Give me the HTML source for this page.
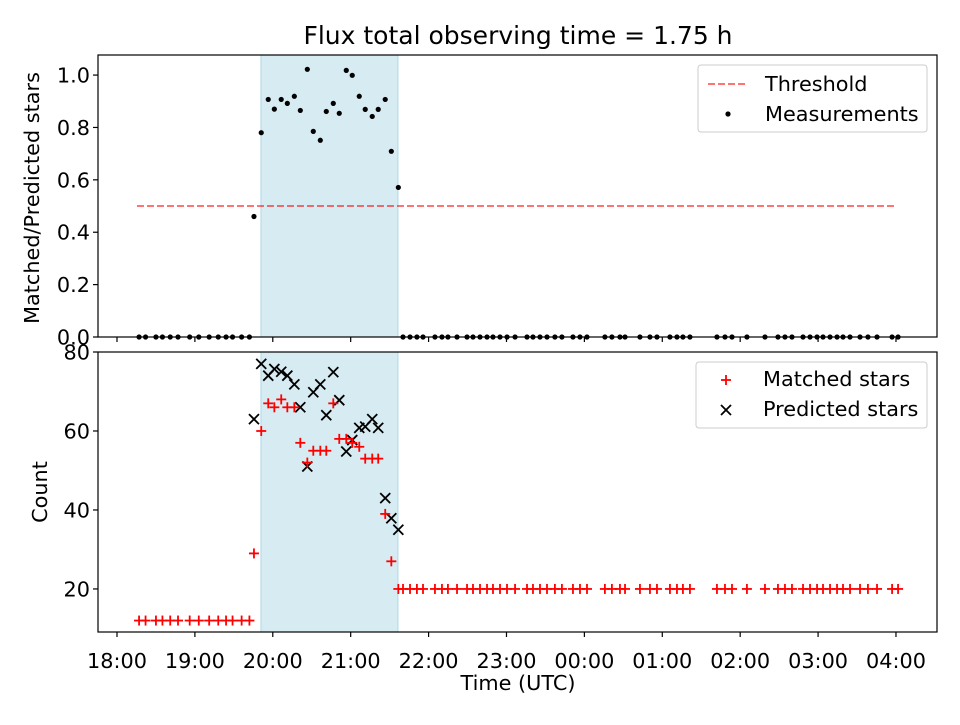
<!DOCTYPE html>
<html><head><meta charset="utf-8"><style>
body{margin:0;background:#fff;}
svg{font-family:"DejaVu Sans","Liberation Sans",sans-serif;}
</style></head><body>
<svg id="chart" width="960" height="720" xmlns="http://www.w3.org/2000/svg"></svg>
<script>
// minutes since 18:00 UTC
const preTimes=[17,22,30,35,41,47,56,63,71,78,84,89,96,102];
const preMatched=[12,12,12,12,12,12,12,12,12,12,12,12,12,12];
const winTimes=[105.5,111.1,116.5,121.2,126.5,131.2,136.6,141.2,146.6,151.2,156.6,161.2,166.6,171.2,176.6,181.2,186.6,191.2,196.6,201.2,206.6,211.3,216.7];
const winMatched=[29,60,67,66,68,66,66,57,52,55,55,55,67,58,58,57,56,53,53,53,39,27,20];
const winPredicted=[63,77,74,75.7,75,74,71.8,66,51,69.8,71.8,64,74.9,67.8,54.8,57.7,60.8,61.1,63,60.8,43,37.9,35];
const winRatio=[0.46,0.78,0.907,0.87,0.907,0.892,0.919,0.865,1.022,0.785,0.751,0.861,0.892,0.854,1.018,0.999,0.919,0.869,0.842,0.869,0.907,0.709,0.571];
const postTimes=[220.3,225.7,231,235.7,244.9,250.3,254.9,261.9,269.6,274.2,279.6,285,289.6,295,300.4,306.6,315.8,320.4,325.8,331.2,337.3,342.7,351.2,356.6,362,375.8,381.2,387.4,391.3,402.8,410.5,415.9,425.9,431.3,435.9,441.3,462.1,468.3,473.7,485.2,499.1,509.1,514.5,519.9,528.4,533.8,539.2,543.8,549.2,554.6,559.2,564.6,572.3,578.4,585.4,597,601.6];
const postMatched=postTimes.map(()=>20);
const xTickLabels=["18:00","19:00","20:00","21:00","22:00","23:00","00:00","01:00","02:00","03:00","04:00"];
const topTicks=[0,0.2,0.4,0.6,0.8,1.0];
const botTicks=[20,40,60,80];
const threshold=0.5, thrStart=15.4, thrEnd=600;
const spanStart=110.9, spanEnd=216.4;

const NS="http://www.w3.org/2000/svg";
const svg=document.getElementById('chart');
function el(tag,attrs,parent){const e=document.createElementNS(NS,tag);for(const k in attrs)e.setAttribute(k,attrs[k]);(parent||svg).appendChild(e);return e;}
const L=98,R=937, T1=55,B1=337, T2=352,B2=632;
const xMin=-14.63,xMax=631.6;
const X=m=>L+(m-xMin)/(xMax-xMin)*(R-L);
const yTop=v=>B1-(v-(-0.0))/(1.0766)*(B1-T1);
const bMin=9.1,bMax=80;
const yBot=v=>B2-(v-bMin)/(bMax-bMin)*(B2-T2);
const FS=20.8;

let s=el('rect',{x:X(spanStart),y:T1,width:X(spanEnd)-X(spanStart),height:B1-T1,fill:'#add8e6','fill-opacity':0.5,stroke:'#add8e6'});

s=el('rect',{x:X(spanStart),y:T2,width:X(spanEnd)-X(spanStart),height:B2-T2,fill:'#add8e6','fill-opacity':0.5,stroke:'#add8e6'});


let th=el('line',{x1:X(thrStart),x2:X(thrEnd),y1:yTop(threshold),y2:yTop(threshold),stroke:'#ff0000','stroke-opacity':0.55,'stroke-width':2,'stroke-dasharray':'7,3'});


const allT=[...preTimes,...winTimes,...postTimes];
const allR=[...preTimes.map(()=>0),...winRatio,...postTimes.map(()=>0)];
allT.forEach((t,i)=>{const c=el('circle',{cx:X(t),cy:yTop(allR[i]),r:2.6,fill:'#000'});

});

function plus(x,y){const g=el('g',{stroke:'#ff0000','stroke-width':1.8});el('line',{x1:x-5,x2:x+5,y1:y,y2:y},g);el('line',{x1:x,x2:x,y1:y-5,y2:y+5},g);return g;}
function cross(x,y){const g=el('g',{stroke:'#000','stroke-width':1.8});el('line',{x1:x-5,x2:x+5,y1:y-5,y2:y+5},g);el('line',{x1:x-5,x2:x+5,y1:y+5,y2:y-5},g);return g;}
winTimes.forEach((t,i)=>{const g=cross(X(t),yBot(winPredicted[i]));

});
const mT=[...preTimes,...winTimes,...postTimes], mV=[...preMatched,...winMatched,...postMatched];
mT.forEach((t,i)=>{const g=plus(X(t),yBot(mV[i]));

});

[[T1,B1,'top-axes-frame'],[T2,B2,'bottom-axes-frame']].forEach(([t,b,n])=>{const r=el('rect',{x:L,y:t,width:R-L,height:b-t,fill:'none',stroke:'#000','stroke-width':1.2});
});

xTickLabels.forEach((lab,i)=>{const x=X(i*60);
el('line',{x1:x,x2:x,y1:B1,y2:B1+5,stroke:'#000','stroke-width':1.2});
el('line',{x1:x,x2:x,y1:B2,y2:B2+5,stroke:'#000','stroke-width':1.2});
const tx=el('text',{x:x,y:B2+36,'font-size':FS,'text-anchor':'middle'});tx.textContent=lab;

});
topTicks.forEach(v=>{const y=yTop(v);el('line',{x1:L-5,x2:L,y1:y,y2:y,stroke:'#000','stroke-width':1.2});
const tx=el('text',{x:L-8,y:y+7.5,'font-size':FS,'text-anchor':'end'});tx.textContent=v.toFixed(1);

});
botTicks.forEach(v=>{const y=yBot(v);el('line',{x1:L-5,x2:L,y1:y,y2:y,stroke:'#000','stroke-width':1.2});
const tx=el('text',{x:L-8,y:y+7.5,'font-size':FS,'text-anchor':'end'});tx.textContent=v;

});

function txt(x,y,str,size,name,extra){const t=el('text',Object.assign({x:x,y:y,'font-size':size},extra||{}));t.textContent=str;
return t;}
txt(518,44,'Flux total observing time = 1.75 h',25,'chart-title',{'text-anchor':'middle'});
txt(518,690,'Time (UTC)',FS,'x-axis-title',{'text-anchor':'middle'});
txt(39,198,'Matched/Predicted stars',FS,'top-y-axis-title',{'text-anchor':'middle',transform:'rotate(-90 39 198)'});
txt(47,492,'Count',FS,'bottom-y-axis-title',{'text-anchor':'middle',transform:'rotate(-90 47 492)'});

let lg=el('rect',{x:698,y:65,width:229,height:67,rx:3,fill:'#fff','fill-opacity':0.8,stroke:'#ccc'});

el('line',{x1:708,x2:748,y1:84,y2:84,stroke:'#ff0000','stroke-opacity':0.55,'stroke-width':2,'stroke-dasharray':'7,3'});
txt(765,91,'Threshold',FS,'legend-threshold');
el('circle',{cx:728,cy:114,r:2.6,fill:'#000'});
txt(765,121,'Measurements',FS,'legend-measurements');
lg=el('rect',{x:696,y:362,width:231,height:66,rx:3,fill:'#fff','fill-opacity':0.8,stroke:'#ccc'});

plus(726,380);txt(763,386,'Matched stars',FS,'legend-matched');
cross(726,410);txt(763,416,'Predicted stars',FS,'legend-predicted');
</script>
</body></html>
